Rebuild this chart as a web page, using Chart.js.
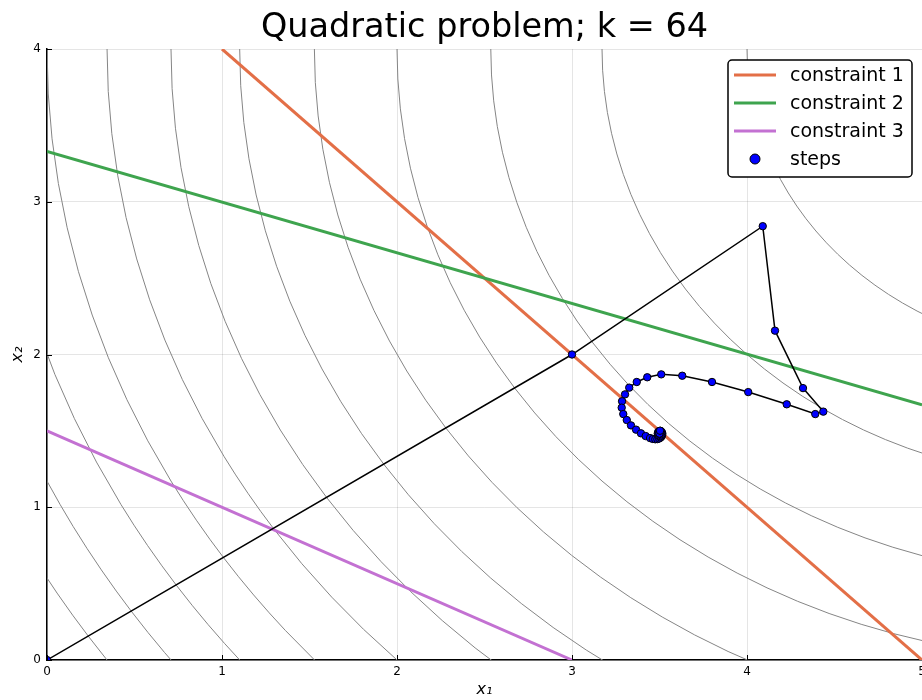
<!DOCTYPE html>
<html>
<head>
<meta charset="utf-8">
<script src="https://cdn.jsdelivr.net/npm/chart.js@4.4.1/dist/chart.umd.min.js"></script>
<style>
  html, body { margin: 0; padding: 0; background: #fff; }
  #wrap { width: 922px; height: 700px; }
</style>
</head>
<body>
<div id="wrap"><canvas id="chart" width="922" height="700"></canvas></div>
<script>
// datos
const xTicks = [0, 1, 2, 3, 4, 5];
const yTicks = [0, 1, 2, 3, 4];

const constraint1X = [1, 5];
const constraint1Y = [4, 0];
const constraint2X = [0, 5];
const constraint2Y = [3.33, 1.67];
const constraint3X = [0, 3];
const constraint3Y = [1.5, 0];

const stepsX = [0, 3.0, 4.09, 4.16, 4.32, 4.436, 4.39, 4.227, 4.007, 3.80, 3.63, 3.51, 3.43, 3.37, 3.327, 3.303,
  3.286, 3.284, 3.293, 3.313, 3.337, 3.366, 3.394, 3.421, 3.446, 3.462, 3.476, 3.488, 3.498, 3.506, 3.512,
  3.515, 3.516, 3.514, 3.51, 3.506, 3.498, 3.492, 3.49, 3.492, 3.498, 3.505, 3.51, 3.512, 3.51, 3.505,
  3.5, 3.498, 3.5, 3.503];
const stepsY = [0, 2.0, 2.84, 2.156, 1.78, 1.626, 1.61, 1.674, 1.754, 1.82, 1.861, 1.87, 1.851, 1.82, 1.783, 1.739,
  1.694, 1.652, 1.61, 1.571, 1.536, 1.508, 1.484, 1.466, 1.453, 1.447, 1.445, 1.446, 1.45, 1.456, 1.464,
  1.473, 1.482, 1.49, 1.496, 1.5, 1.499, 1.492, 1.483, 1.474, 1.466, 1.465, 1.47, 1.478, 1.486, 1.492,
  1.494, 1.488, 1.482, 1.501];

// curvas de nivel: circulos centrados en (6, 4), radio^2 = nivel
const contourCenter = [6, 4];
const contourLevels = [4, 8, 12, 16, 20, 24, 28, 32, 36, 40, 44, 48, 52];

const toPts = (xs, ys) => xs.map((v, i) => ({ x: v, y: ys[i] }));

const contourPlugin = {
  id: 'contours',
  beforeDatasetsDraw(chart) {
    const { ctx, chartArea: a, scales: { x, y } } = chart;
    ctx.save();
    ctx.beginPath();
    ctx.rect(a.left, a.top, a.right - a.left, a.bottom - a.top);
    ctx.clip();
    ctx.strokeStyle = '#858585';
    ctx.lineWidth = 1;
    const cx = x.getPixelForValue(contourCenter[0]);
    const cy = y.getPixelForValue(contourCenter[1]);
    contourLevels.forEach(lv => {
      const r = Math.sqrt(lv);
      const rx = x.getPixelForValue(contourCenter[0] + r) - cx;
      const ry = cy - y.getPixelForValue(contourCenter[1] + r);
      ctx.beginPath();
      ctx.ellipse(cx, cy, rx, ry, 0, 0, 2 * Math.PI);
      ctx.stroke();
    });
    ctx.restore();
  },
  afterDraw(chart) {
    // marcas de tick hacia dentro
    const { ctx, chartArea: a, scales: { x, y } } = chart;
    ctx.save();
    ctx.strokeStyle = '#000';
    ctx.lineWidth = 1;
    ctx.beginPath();
    xTicks.forEach(v => {
      const px = Math.round(x.getPixelForValue(v)) + 0.5;
      ctx.moveTo(px, a.bottom);
      ctx.lineTo(px, a.bottom - 5);
    });
    yTicks.forEach(v => {
      const py = Math.round(y.getPixelForValue(v)) + 0.5;
      ctx.moveTo(a.left, py);
      ctx.lineTo(a.left + 5, py);
    });
    ctx.stroke();
    ctx.restore();
  }
};

const legendPlugin = {
  id: 'boxLegend',
  afterDraw(chart) {
    const { ctx, chartArea: a } = chart;
    const left = a.right - 194, top = a.top + 11, w = 184, h = 117;
    ctx.save();
    ctx.fillStyle = '#fff';
    ctx.strokeStyle = '#000';
    ctx.lineWidth = 1.5;
    ctx.beginPath();
    ctx.roundRect(left, top, w, h, 4);
    ctx.fill();
    ctx.stroke();
    ctx.font = '19px "DejaVu Sans"';
    ctx.textBaseline = 'middle';
    chart.data.datasets.forEach((ds, i) => {
      const yy = top + 15 + i * 28;
      if (ds.legendMarker) {
        ctx.beginPath();
        ctx.arc(left + 27, yy, 5, 0, 2 * Math.PI);
        ctx.fillStyle = ds.pointBackgroundColor;
        ctx.fill();
        ctx.lineWidth = 1;
        ctx.strokeStyle = '#000';
        ctx.stroke();
      } else {
        ctx.beginPath();
        ctx.moveTo(left + 6, yy);
        ctx.lineTo(left + 48, yy);
        ctx.strokeStyle = ds.borderColor;
        ctx.lineWidth = 3;
        ctx.stroke();
      }
      ctx.fillStyle = '#000';
      ctx.fillText(ds.label, left + 62, yy + 1);
    });
    ctx.restore();
  }
};

new Chart(document.getElementById('chart'), {
  type: 'scatter',
  data: {
    datasets: [
      { label: 'constraint 1', data: toPts(constraint1X, constraint1Y), showLine: true, order: 4,
        borderColor: '#e36f47', borderWidth: 3, pointRadius: 0 },
      { label: 'constraint 2', data: toPts(constraint2X, constraint2Y), showLine: true, order: 3,
        borderColor: '#3ea44e', borderWidth: 3, pointRadius: 0 },
      { label: 'constraint 3', data: toPts(constraint3X, constraint3Y), showLine: true, order: 2,
        borderColor: '#c371d2', borderWidth: 3, pointRadius: 0 },
      { label: 'steps', data: toPts(stepsX, stepsY), showLine: true, legendMarker: true, order: 1,
        borderColor: '#000', borderWidth: 1.5,
        pointBackgroundColor: '#0000ff', pointBorderColor: '#000', pointBorderWidth: 1, pointRadius: 3.7 }
    ]
  },
  options: {
    responsive: false,
    animation: false,
    devicePixelRatio: 1,
    layout: { padding: 0, autoPadding: false },
    plugins: {
      legend: { display: false },
      tooltip: { enabled: false },
      title: {
        display: true,
        fullSize: false,
        text: 'Quadratic problem; k = 64',
        color: '#000',
        font: { family: 'DejaVu Sans', size: 33.5, weight: 'normal', lineHeight: 1.1 },
        padding: { top: 10, bottom: 2.15 }
      }
    },
    scales: {
      x: {
        type: 'linear', min: 0, max: 5,
        afterBuildTicks: s => { s.ticks = xTicks.map(v => ({ value: v })); },
        afterFit: s => { s.height = 40; s.paddingLeft = 0; s.paddingRight = 0; },
        ticks: { color: '#000', font: { family: 'DejaVu Sans', size: 12 }, padding: 5, maxRotation: 0 },
        grid: { color: 'rgba(0,0,0,0.1)', drawTicks: false },
        border: { color: '#000', width: 1.5 },
        title: { display: true, text: 'x₁', color: '#000', font: { family: 'DejaVu Sans', size: 16, style: 'italic' },
          padding: { top: 0, bottom: 1 } }
      },
      y: {
        type: 'linear', min: 0, max: 4,
        afterBuildTicks: s => { s.ticks = yTicks.map(v => ({ value: v })); },
        afterFit: s => { s.width = 47; s.paddingTop = 0; s.paddingBottom = 0; },
        ticks: { color: '#000', font: { family: 'DejaVu Sans', size: 12 }, padding: 6 },
        grid: { color: 'rgba(0,0,0,0.1)', drawTicks: false },
        border: { color: '#000', width: 1.5 },
        title: { display: true, text: 'x₂', color: '#000', font: { family: 'DejaVu Sans', size: 16, style: 'italic' },
          padding: { top: 8, bottom: 0 } }
      }
    }
  },
  plugins: [contourPlugin, legendPlugin]
});
</script>
</body>
</html>
